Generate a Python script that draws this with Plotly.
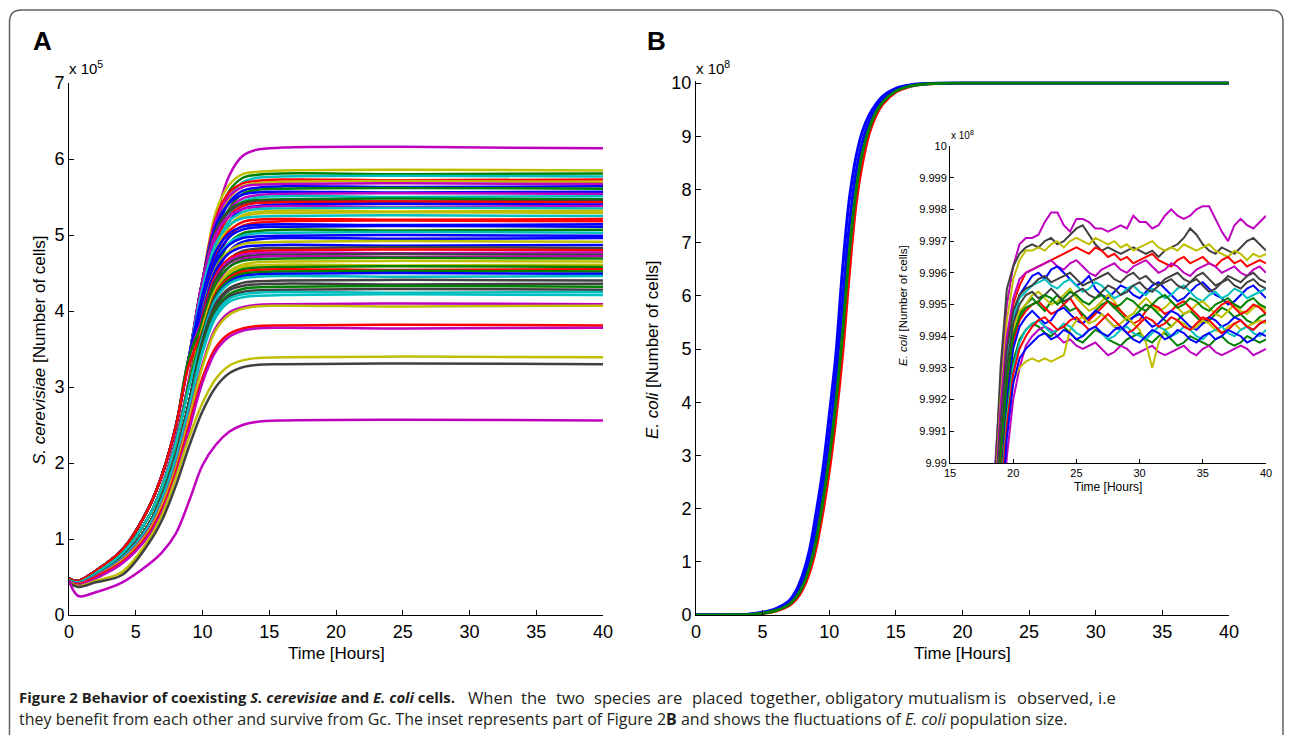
import plotly.graph_objects as go

W, H = 1293, 735
OFF = 8  # the page body adds an 8 px margin around the figure
FONT = "Liberation Sans"

BLUE, GREEN, RED, CYAN = "#0000ff", "#008000", "#ff0000", "#00bfbf"
MAGENTA, YELLOW, GREY = "#bf00bf", "#bfbf00", "#404040"

# ---- panel A: S. cerevisiae, values in thousands of cells ----
a_time = [0, 0.7, 2, 4, 6, 7, 8, 9, 10, 11, 12, 13, 14, 16, 25, 40]
a_curves = [
    [47, 44, 56, 82, 130, 172, 232, 312, 420, 520, 578, 604, 612, 615, 616, 614],
    [48, 45, 58, 86, 142, 186, 248, 340, 440, 530, 566, 580, 583, 585, 586, 585],
    [46, 43, 55, 81, 130, 170, 226, 305, 400, 512, 558, 575, 579, 581, 580, 581],
    [44, 41, 52, 76, 120, 158, 210, 280, 365, 496, 549, 569, 575, 577, 578, 577],
    [48, 45, 58, 86, 142, 186, 248, 340, 440, 522, 556, 568, 571, 573, 572, 573],
    [46, 43, 55, 81, 130, 170, 226, 305, 400, 505, 548, 564, 568, 570, 571, 570],
    [48, 45, 58, 86, 142, 186, 248, 340, 440, 519, 551, 563, 566, 567, 568, 567],
    [46, 43, 55, 81, 130, 170, 226, 305, 400, 502, 543, 558, 562, 564, 563, 564],
    [44, 41, 52, 76, 120, 158, 210, 280, 365, 487, 535, 554, 559, 561, 562, 561],
    [48, 45, 58, 86, 142, 186, 248, 340, 440, 513, 542, 553, 556, 557, 556, 557],
    [46, 43, 55, 81, 130, 170, 226, 305, 400, 495, 534, 548, 552, 554, 555, 554],
    [44, 41, 52, 76, 120, 158, 210, 280, 365, 480, 527, 544, 549, 551, 550, 551],
    [48, 45, 58, 86, 142, 186, 248, 340, 440, 506, 533, 543, 546, 547, 548, 547],
    [48, 45, 58, 86, 142, 186, 248, 340, 440, 505, 531, 541, 544, 545, 544, 545],
    [46, 43, 55, 81, 130, 170, 226, 305, 400, 489, 525, 538, 542, 543, 544, 543],
    [44, 41, 52, 76, 120, 158, 210, 280, 365, 474, 518, 534, 538, 540, 541, 540],
    [48, 45, 58, 86, 142, 186, 248, 340, 440, 501, 525, 534, 537, 538, 537, 538],
    [46, 43, 55, 81, 130, 170, 226, 305, 400, 484, 518, 530, 534, 535, 536, 535],
    [44, 41, 52, 76, 120, 158, 210, 280, 365, 469, 511, 526, 530, 532, 531, 532],
    [46, 43, 55, 81, 130, 170, 226, 305, 400, 480, 512, 524, 528, 529, 530, 529],
    [48, 45, 58, 86, 142, 186, 248, 340, 430, 489, 513, 522, 524, 525, 526, 525],
    [46, 43, 55, 81, 130, 170, 226, 305, 400, 475, 505, 517, 520, 521, 520, 521],
    [44, 41, 52, 76, 120, 158, 210, 280, 365, 460, 498, 512, 516, 518, 519, 518],
    [48, 45, 58, 86, 142, 186, 248, 340, 421, 479, 502, 511, 513, 514, 513, 514],
    [46, 43, 55, 81, 130, 170, 226, 305, 400, 469, 497, 507, 510, 511, 512, 511],
    [44, 41, 52, 76, 120, 158, 210, 280, 365, 453, 489, 502, 505, 507, 506, 507],
    [46, 43, 55, 81, 130, 170, 226, 305, 400, 464, 490, 499, 502, 503, 504, 503],
    [48, 45, 58, 86, 142, 186, 248, 340, 409, 465, 487, 496, 498, 499, 500, 499],
    [44, 41, 52, 76, 120, 158, 210, 280, 365, 446, 479, 491, 494, 496, 495, 496],
    [46, 43, 55, 81, 130, 170, 226, 305, 400, 456, 479, 488, 490, 491, 492, 491],
    [48, 45, 58, 86, 142, 186, 248, 340, 399, 454, 476, 484, 486, 487, 486, 487],
    [44, 41, 52, 76, 120, 158, 210, 280, 365, 438, 468, 479, 482, 483, 484, 483],
    [46, 43, 55, 81, 130, 170, 226, 305, 394, 447, 469, 477, 479, 480, 481, 480],
    [48, 45, 58, 86, 142, 186, 248, 340, 391, 444, 466, 474, 476, 477, 476, 477],
    [46, 43, 55, 81, 130, 170, 226, 305, 389, 442, 463, 471, 473, 474, 475, 474],
    [44, 41, 52, 76, 120, 158, 210, 280, 365, 431, 458, 468, 471, 472, 471, 472],
    [48, 45, 58, 86, 142, 186, 248, 340, 385, 437, 458, 466, 468, 469, 470, 469],
    [44, 41, 52, 76, 120, 158, 210, 280, 365, 427, 452, 461, 464, 465, 466, 465],
    [46, 43, 55, 81, 130, 170, 226, 305, 378, 429, 450, 458, 460, 461, 460, 461],
    [44, 41, 52, 76, 120, 158, 210, 280, 365, 423, 446, 455, 457, 458, 459, 458],
    [48, 45, 58, 86, 142, 186, 248, 330, 373, 424, 444, 452, 454, 455, 454, 455],
    [46, 43, 55, 81, 130, 170, 226, 305, 371, 421, 441, 449, 451, 452, 453, 452],
    [44, 41, 52, 76, 120, 158, 210, 280, 365, 417, 438, 446, 448, 449, 450, 449],
    [46, 43, 55, 81, 130, 170, 226, 300, 366, 416, 436, 443, 445, 446, 445, 446],
    [44, 41, 52, 76, 120, 158, 210, 280, 361, 410, 430, 437, 439, 440, 441, 440],
    [44, 41, 52, 76, 120, 158, 210, 280, 358, 406, 427, 433, 435, 436, 435, 436],
    [44, 41, 52, 76, 120, 158, 210, 278, 354, 402, 422, 429, 431, 432, 433, 432],
    [44, 41, 52, 76, 120, 158, 210, 278, 351, 399, 419, 425, 427, 428, 429, 428],
    [44, 41, 52, 75, 118, 155, 206, 274, 348, 396, 416, 422, 424, 425, 424, 425],
    [43, 40, 51, 74, 116, 152, 202, 270, 345, 392, 412, 418, 420, 421, 422, 421],
    [44, 41, 51, 73, 113, 148, 196, 262, 330, 378, 398, 405, 408, 409, 410, 409],
    [43, 40, 50, 72, 111, 146, 193, 259, 327, 375, 395, 403, 406, 407, 406, 407],
    [43, 40, 50, 70, 108, 141, 188, 250, 312, 352, 370, 377, 380, 381, 382, 381],
    [42, 39, 48, 68, 105, 137, 183, 244, 306, 347, 366, 374, 377, 378, 377, 378],
    [43, 38, 45, 57, 100, 133, 180, 234, 279, 311, 328, 335, 338, 339, 340, 339],
    [42, 37, 43, 53, 95, 126, 170, 222, 268, 300, 318, 326, 329, 330, 331, 330],
    [45, 25, 30, 43, 67, 83, 107, 150, 197, 224, 241, 250, 254, 256, 257, 256],
]
a_colors = [
    MAGENTA, YELLOW, GREEN, CYAN, RED, YELLOW, MAGENTA, BLUE, GREEN, BLUE,
    MAGENTA, CYAN, GREEN, GREY, RED, BLUE, MAGENTA, CYAN, YELLOW, YELLOW,
    CYAN, RED, RED, BLUE, BLUE, GREEN, CYAN, BLUE, BLUE, YELLOW,
    BLUE, GREY, RED, MAGENTA, GREY, MAGENTA, GREEN, YELLOW, YELLOW, GREEN,
    RED, GREEN, BLUE, CYAN, GREY, GREY, GREEN, GREY, CYAN, CYAN,
    MAGENTA, YELLOW, RED, MAGENTA, YELLOW, GREY, MAGENTA,
]

# ---- panel B: E. coli, values in 1e8 cells ----
b_time = [0, 2, 4, 5, 6, 7, 7.5, 8, 8.5, 9, 9.5, 10, 10.5, 11, 11.5, 12, 12.5,
          13, 13.5, 14, 15, 16, 17, 18, 20, 40]
b_blue1 = [0, 0.002, 0.015, 0.05, 0.12, 0.27, 0.45, 0.75, 1.2, 1.9, 2.7, 3.75, 4.9,
           6.5, 7.8, 8.6, 9.1, 9.4, 9.6, 9.75, 9.9, 9.96, 9.985, 9.995, 9.9993, 9.9995]
b_blue2 = [0, 0.002, 0.012, 0.04, 0.1, 0.23, 0.38, 0.63, 1.02, 1.62, 2.38, 3.3, 4.45,
           5.85, 7.3, 8.3, 8.9, 9.28, 9.52, 9.69, 9.87, 9.95, 9.98, 9.993, 9.9993, 9.9995]
b_green = [0, 0.0015, 0.01, 0.035, 0.085, 0.2, 0.33, 0.54, 0.88, 1.38, 2.1, 2.95, 4.0,
           5.3, 6.8, 7.95, 8.7, 9.15, 9.45, 9.64, 9.85, 9.94, 9.978, 9.992, 9.9993, 9.9995]
b_red = [0, 0.001, 0.008, 0.03, 0.075, 0.18, 0.29, 0.48, 0.78, 1.24, 1.9, 2.7, 3.7,
         4.9, 6.4, 7.7, 8.5, 9.05, 9.38, 9.6, 9.83, 9.93, 9.975, 9.991, 9.9992, 9.9994]

# ---- inset: shortfall below 1e9 cells, in units of 1e4 cells ----
i_time = [18, 18.5, 19, 19.5, 20, 20.5, 21, 21.5, 22, 22.5, 23, 23.5, 24, 24.5, 25,
          25.5, 26, 26.5, 27, 27.5, 28, 28.5, 29, 29.5, 30, 30.5, 31, 31.5, 32, 32.5,
          33, 33.5, 34, 34.5, 35, 35.5, 36, 36.5, 37, 37.5, 38, 38.5, 39, 39.5, 40]
i_deficit = [
    [135, 105, 75, 50, 38, 31, 29, 29, 28, 24, 21, 21, 25, 27, 23, 23, 24, 26, 26, 27, 26, 25, 26, 22, 24, 24, 26, 25, 22, 20, 22, 23, 22, 20, 19, 19, 23, 27, 30, 25, 23, 25, 26, 24, 22],
    [140, 110, 70, 45, 38, 34, 32, 31, 32, 30, 29, 31, 30, 28, 26, 25, 28, 31, 33, 32, 33, 34, 33, 32, 33, 34, 33, 35, 33, 32, 31, 29, 26, 28, 31, 33, 34, 32, 33, 34, 32, 30, 29, 31, 33],
    [145, 115, 80, 55, 42, 36, 33, 33, 32, 33, 31, 30, 32, 30, 29, 30, 31, 29, 30, 31, 30, 32, 31, 33, 32, 31, 30, 32, 33, 32, 33, 31, 32, 33, 32, 31, 33, 34, 35, 33, 34, 36, 34, 35, 34],
    [150, 120, 90, 62, 50, 44, 40, 39, 38, 37, 36, 35, 34, 33, 32, 33, 34, 32, 33, 35, 34, 36, 35, 37, 36, 35, 34, 36, 37, 38, 36, 35, 37, 36, 35, 37, 38, 36, 35, 37, 36, 38, 37, 36, 37],
    [150, 118, 82, 60, 48, 42, 40, 39, 38, 37, 36, 38, 39, 37, 36, 38, 40, 41, 39, 38, 37, 39, 40, 38, 37, 36, 38, 40, 39, 37, 38, 40, 41, 39, 38, 37, 38, 40, 39, 38, 40, 41, 39, 38, 40],
    [160, 130, 95, 70, 55, 47, 44, 41, 40, 42, 39, 38, 40, 42, 44, 43, 41, 45, 47, 48, 46, 44, 45, 47, 48, 46, 44, 43, 45, 47, 49, 48, 46, 44, 43, 45, 47, 48, 50, 49, 47, 45, 44, 46, 48],
    [155, 125, 92, 68, 54, 48, 46, 44, 43, 42, 44, 45, 43, 42, 44, 46, 45, 43, 44, 46, 48, 47, 45, 44, 46, 47, 45, 46, 48, 47, 45, 44, 46, 48, 49, 47, 46, 48, 47, 45, 46, 48, 47, 46, 45],
    [150, 120, 88, 64, 52, 47, 45, 44, 42, 41, 43, 42, 41, 40, 42, 44, 43, 42, 41, 40, 42, 43, 41, 40, 42, 41, 43, 44, 42, 41, 40, 42, 43, 41, 40, 42, 44, 43, 41, 42, 43, 41, 40, 42, 43],
    [165, 135, 100, 75, 60, 53, 50, 48, 50, 52, 49, 47, 50, 52, 51, 53, 55, 52, 50, 49, 51, 53, 55, 54, 52, 50, 51, 53, 55, 57, 55, 53, 52, 54, 56, 55, 53, 51, 52, 54, 53, 55, 56, 54, 53],
    [160, 128, 95, 72, 58, 52, 50, 47, 46, 48, 50, 49, 47, 45, 48, 50, 52, 51, 49, 47, 49, 52, 54, 53, 50, 48, 50, 52, 51, 49, 51, 53, 52, 50, 49, 51, 53, 54, 52, 50, 52, 53, 51, 50, 52],
    [170, 140, 105, 78, 62, 55, 52, 50, 49, 51, 53, 52, 50, 48, 51, 54, 55, 53, 51, 49, 50, 52, 54, 56, 55, 52, 50, 51, 53, 52, 50, 49, 51, 53, 55, 54, 52, 50, 49, 51, 53, 52, 50, 51, 53],
    [170, 140, 108, 80, 64, 57, 54, 52, 54, 56, 55, 52, 51, 53, 55, 56, 54, 52, 53, 55, 57, 58, 56, 54, 53, 55, 57, 56, 54, 52, 53, 55, 57, 58, 56, 54, 55, 57, 56, 54, 55, 57, 58, 56, 55],
    [175, 145, 110, 84, 68, 61, 58, 56, 57, 59, 60, 58, 57, 59, 61, 62, 60, 58, 59, 61, 62, 63, 61, 60, 59, 61, 62, 60, 59, 61, 63, 62, 60, 61, 62, 63, 61, 60, 62, 63, 62, 60, 61, 62, 61],
    [190, 160, 125, 98, 80, 70, 63, 60, 58, 57, 58, 60, 62, 61, 63, 64, 63, 62, 64, 66, 65, 63, 64, 66, 65, 64, 63, 65, 66, 65, 64, 63, 65, 66, 64, 63, 65, 66, 65, 64, 63, 64, 66, 65, 64],
    [180, 150, 115, 88, 74, 70, 68, 67, 68, 67, 68, 67, 66, 58, 55, 54, 56, 55, 53, 55, 57, 56, 54, 56, 58, 62, 70, 62, 58, 57, 55, 56, 58, 57, 55, 56, 58, 59, 57, 56, 58, 57, 56, 55, 56],
    [175, 145, 112, 86, 70, 62, 58, 56, 55, 57, 59, 58, 56, 57, 59, 60, 58, 57, 59, 61, 60, 58, 57, 59, 60, 61, 59, 57, 58, 60, 59, 57, 58, 60, 61, 59, 58, 57, 59, 60, 58, 57, 59, 60, 58],
    [160, 128, 94, 70, 56, 50, 47, 46, 48, 47, 45, 47, 49, 48, 46, 45, 47, 48, 46, 44, 45, 47, 46, 44, 43, 45, 46, 44, 43, 42, 44, 45, 43, 42, 44, 46, 45, 43, 42, 44, 45, 43, 42, 44, 45],
    [180, 150, 114, 88, 72, 64, 60, 57, 55, 54, 56, 58, 57, 55, 54, 56, 58, 57, 55, 53, 55, 57, 59, 58, 56, 54, 55, 57, 56, 54, 55, 57, 58, 56, 54, 55, 57, 59, 58, 56, 55, 57, 58, 56, 55],
    [185, 155, 120, 92, 75, 67, 64, 62, 60, 59, 61, 60, 58, 59, 61, 60, 58, 57, 59, 60, 58, 57, 59, 61, 62, 60, 58, 59, 61, 60, 58, 59, 61, 62, 60, 59, 61, 60, 58, 59, 60, 62, 61, 59, 60],
    [165, 132, 98, 74, 60, 54, 51, 50, 49, 47, 48, 50, 48, 46, 47, 49, 50, 48, 47, 49, 51, 50, 48, 49, 51, 52, 50, 48, 47, 49, 51, 50, 48, 49, 51, 52, 50, 49, 48, 50, 51, 49, 48, 50, 51],
]
i_colors = [MAGENTA, GREY, YELLOW, RED, MAGENTA, BLUE, CYAN, GREY, GREEN, YELLOW,
            RED, BLUE, GREEN, MAGENTA, YELLOW, CYAN, GREY, RED, BLUE, GREEN]

inset_ticks = [9.99, 9.991, 9.992, 9.993, 9.994, 9.995, 9.996, 9.997, 9.998, 9.999, 10]
inset_ticktext = ["9.99", "9.991", "9.992", "9.993", "9.994", "9.995", "9.996",
                  "9.997", "9.998", "9.999", "10"]


def px(x):
    return (x - OFF) / W


def py(y):
    return 1 - (y - OFF) / H


fig = go.Figure()

for vals, col in zip(a_curves, a_colors):
    fig.add_trace(go.Scatter(
        x=a_time, y=[v / 100 for v in vals], mode="lines",
        line=dict(color=col, width=2.5, shape="spline", smoothing=1),
        xaxis="x", yaxis="y", showlegend=False, hoverinfo="skip"))

for vals, col in [(b_red, RED), (b_blue1, BLUE), (b_blue2, BLUE), (b_green, GREEN)]:
    fig.add_trace(go.Scatter(
        x=b_time, y=vals, mode="lines",
        line=dict(color=col, width=3, shape="spline", smoothing=1),
        xaxis="x2", yaxis="y2", showlegend=False, hoverinfo="skip"))

for vals, col in zip(i_deficit, i_colors):
    fig.add_trace(go.Scatter(
        x=i_time, y=[10 - d / 1e4 for d in vals], mode="lines",
        line=dict(color=col, width=2),
        xaxis="x3", yaxis="y3", showlegend=False, hoverinfo="skip"))

axis_style = dict(showline=True, linecolor="black", linewidth=1, ticks="inside",
                  ticklen=5, tickcolor="black", showgrid=False, zeroline=False,
                  mirror=False, automargin=False,
                  tickfont=dict(family=FONT, size=18, color="black"))
small_style = dict(axis_style, ticklen=4, tickfont=dict(family=FONT, size=11, color="black"))

fig.update_layout(
    width=W, height=H, autosize=False,
    margin=dict(l=0, r=0, t=0, b=0, pad=0, autoexpand=False),
    paper_bgcolor="white", plot_bgcolor="rgba(0,0,0,0)",
    xaxis=dict(axis_style, domain=[px(69), px(603)], range=[0, 40],
               tickvals=[0, 5, 10, 15, 20, 25, 30, 35, 40], anchor="y"),
    yaxis=dict(axis_style, domain=[py(615), py(83)], range=[0, 7],
               tickvals=[0, 1, 2, 3, 4, 5, 6, 7], anchor="x"),
    xaxis2=dict(axis_style, domain=[px(696), px(1229)], range=[0, 40],
                tickvals=[0, 5, 10, 15, 20, 25, 30, 35, 40], anchor="y2"),
    yaxis2=dict(axis_style, domain=[py(615), py(81.4)], range=[0, 10.03],
                tickvals=[0, 1, 2, 3, 4, 5, 6, 7, 8, 9, 10], anchor="x2"),
    xaxis3=dict(small_style, domain=[px(950), px(1266)], range=[15, 40],
                tickvals=[15, 20, 25, 30, 35, 40], anchor="y3"),
    yaxis3=dict(small_style, domain=[py(463), py(146)], range=[9.99, 10],
                tickvals=inset_ticks, ticktext=inset_ticktext, anchor="x3"),
)

ann = []


def label(text, x, y, size, xanchor="center", yanchor="middle", angle=0, family=FONT, color="black"):
    ann.append(dict(text=text, x=px(x), y=py(y), xref="paper", yref="paper",
                    xanchor=xanchor, yanchor=yanchor, textangle=angle, showarrow=False,
                    font=dict(family=family, size=size, color=color), align="left"))


label("<b>A</b>", 42, 41, 26)
label("<b>B</b>", 656, 41, 26)
label("x 10<sup>5</sup>", 67, 79, 15, xanchor="left", yanchor="bottom")
label("x 10<sup>8</sup>", 694, 79, 15, xanchor="left", yanchor="bottom")
label("x 10<sup>8</sup>", 949, 143, 10, xanchor="left", yanchor="bottom")
label("<i>S. cerevisiae</i> [Number of cells]", 39, 350, 17, angle=-90)
label("<i>E. coli</i> [Number of cells]", 652, 350, 17, angle=-90)
label("<i>E. coli</i> [Number of cells]", 903, 305, 11.5, angle=-90)
label("Time [Hours]", 336, 653, 17)
label("Time [Hours]", 962, 653, 17)
label("Time [Hours]", 1108, 487, 12)

# caption; the first line is justified, so its plain words are spread out
CAP_FONT, CAP_COLOR, CAP_SIZE = "Open Sans", "#231f20", 16
label("<b>Figure 2 Behavior of coexisting <i>S. cerevisiae</i> and <i>E. coli</i> cells.</b>",
      17, 697, 14.9, xanchor="left", family=CAP_FONT, color=CAP_COLOR)

adv = {"a": 1139, "b": 1255, "c": 975, "d": 1255, "e": 1149, "g": 1122, "h": 1257,
       "i": 518, "l": 518, "m": 1905, "n": 1257, "o": 1237, "p": 1255, "r": 836,
       "s": 977, "t": 723, "u": 1257, "v": 1026, "w": 1593, "y": 1028, ",": 502,
       ".": 545, "W": 1886}
words = "When the two species are placed together, obligatory mutualism is observed, i.e".split()
line1_size = 16.6
widths = [sum(adv.get(c, 1100) for c in w) / 2048 * line1_size * 0.9 for w in words]
x_start, x_end = 466, 1112
gap = (x_end - x_start - sum(widths)) / (len(words) - 1)
xpos = x_start
for w, wd in zip(words, widths):
    label(w, xpos, 697, line1_size, xanchor="left", family=CAP_FONT, color=CAP_COLOR)
    xpos += wd + gap

cap2 = ("they benefit from each other and survive from Gc. The inset represents part of "
        "Figure 2<b>B</b> and shows the fluctuations of <i>E. coli</i> population size.")
label(cap2, 17, 719, CAP_SIZE, xanchor="left", family=CAP_FONT, color=CAP_COLOR)

fig.update_layout(annotations=ann)

# rounded frame around the figure (open at the bottom, it runs off the page)
x0, x1, yt, yb, r = 9.5, 1283, 10, 745, 12
path = (f"M {px(x0)},{py(yb)} L {px(x0)},{py(yt + r)} "
        f"Q {px(x0)},{py(yt)} {px(x0 + r)},{py(yt)} "
        f"L {px(x1 - r)},{py(yt)} Q {px(x1)},{py(yt)} {px(x1)},{py(yt + r)} "
        f"L {px(x1)},{py(yb)}")
fig.add_shape(type="path", path=path, xref="paper", yref="paper",
              line=dict(color="#606060", width=1.5))

fig.write_html("out.html")
